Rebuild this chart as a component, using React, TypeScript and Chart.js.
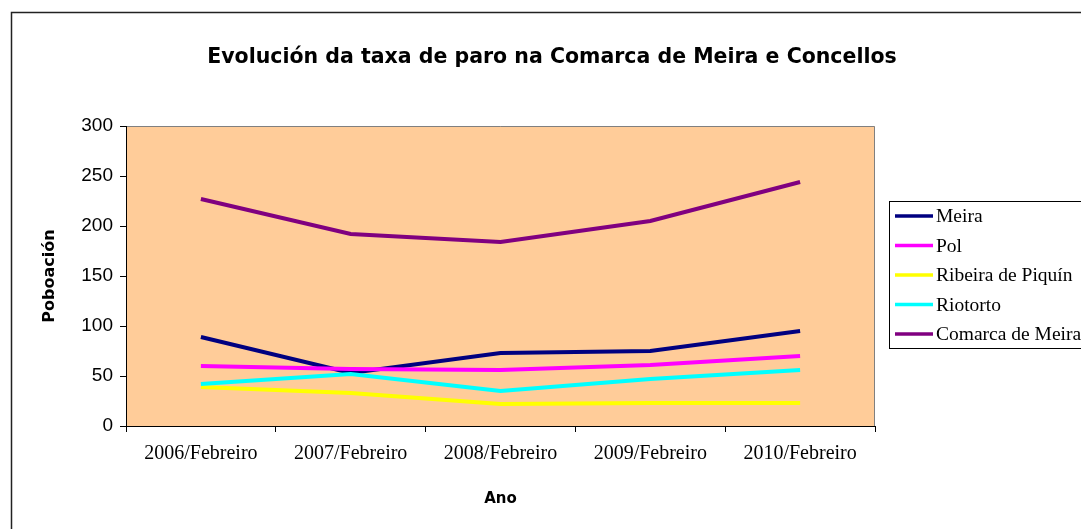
import React, { useEffect, useRef } from 'react';
import { Chart, registerables } from 'chart.js';

Chart.register(...registerables);

const chartTitle = 'Evolución da taxa de paro na Comarca de Meira e Concellos';
const xTitle = 'Ano';
const yTitle = 'Poboación';

const categories = ['2006/Febreiro', '2007/Febreiro', '2008/Febreiro', '2009/Febreiro', '2010/Febreiro'];

const seriesNames = ['Meira', 'Pol', 'Ribeira de Piquín', 'Riotorto', 'Comarca de Meira'];
const meira = [89, 53, 73, 75, 95];
const pol = [60, 57, 56, 61, 70];
const ribeira = [39, 33, 22, 23, 23];
const riotorto = [42, 52, 35, 47, 56];
const comarca = [227, 192, 184, 205, 244];
const seriesColors = ['#000080', '#FF00FF', '#FFFF00', '#00FFFF', '#800080'];

const yMin = 0;
const yMax = 300;
const yStep = 50;

const plotBackground = {
  id: 'plotBackground',
  beforeDraw(chart: any) {
    const { ctx, chartArea } = chart;
    const { left, top, right, bottom } = chartArea;
    ctx.save();
    ctx.strokeStyle = '#222222';
    ctx.lineWidth = 1.5;
    ctx.strokeRect(11.5, 12.5, 1200, 700);
    ctx.fillStyle = '#FFCC99';
    ctx.fillRect(left, top, right - left, bottom - top);
    ctx.strokeStyle = '#808080';
    ctx.lineWidth = 1;
    ctx.beginPath();
    ctx.moveTo(left, Math.round(top) + 0.5);
    ctx.lineTo(Math.round(right) - 0.5, Math.round(top) + 0.5);
    ctx.lineTo(Math.round(right) - 0.5, bottom);
    ctx.stroke();
    ctx.restore();
  },
};

const boxLegend = {
  id: 'boxLegend',
  afterDraw(chart: any) {
    const { ctx } = chart;
    const datasets = chart.data.datasets;
    const boxX = 889.5;
    const boxY = 201.5;
    const rowH = 29.5;
    const firstY = 216;
    ctx.save();
    ctx.fillStyle = '#FFFFFF';
    ctx.fillRect(boxX, boxY, 300, 147);
    ctx.strokeStyle = '#000000';
    ctx.lineWidth = 1;
    ctx.strokeRect(boxX, boxY, 300, 147);
    ctx.font = '19.5px "Liberation Serif"';
    ctx.textBaseline = 'middle';
    ctx.textAlign = 'left';
    datasets.forEach((ds: any, i: number) => {
      const y = firstY + i * rowH;
      ctx.strokeStyle = ds.borderColor;
      ctx.lineWidth = 3.5;
      ctx.beginPath();
      ctx.moveTo(895, y);
      ctx.lineTo(933, y);
      ctx.stroke();
      ctx.fillStyle = '#000000';
      ctx.fillText(ds.label, 936, y + 1);
    });
    ctx.restore();
  },
};

export default function App() {
  const canvasRef = useRef<HTMLCanvasElement | null>(null);

  useEffect(() => {
    const canvas = canvasRef.current;
    if (!canvas) return;
    const seriesValues = [meira, pol, ribeira, riotorto, comarca];
    const chart = new Chart(canvas, {
      type: 'line',
      data: {
        labels: categories,
        datasets: seriesValues.map((vals, i) => ({
          label: seriesNames[i],
          data: vals,
          borderColor: seriesColors[i],
          backgroundColor: seriesColors[i],
          borderWidth: 4,
          pointRadius: 0,
          tension: 0,
          fill: false,
          xAxisID: 'x',
          yAxisID: 'y',
          order: seriesValues.length - i,
        })),
      },
      options: {
        responsive: false,
        animation: false,
        layout: { padding: { left: 23, right: 0, top: 0, bottom: 0 } },
        plugins: {
          legend: { display: false },
          tooltip: { enabled: false },
          title: {
            display: true,
            text: chartTitle,
            color: '#000000',
            font: { family: '"DejaVu Sans"', size: 20.5, weight: 'bold' },
            padding: { top: 45, bottom: 56.4 },
          },
        },
        scales: {
          x: {
            type: 'category',
            offset: true,
            grid: {
              offset: true,
              drawOnChartArea: false,
              drawTicks: true,
              tickLength: 6,
              color: '#000000',
            },
            border: { color: '#000000', width: 1 },
            ticks: {
              color: '#000000',
              font: { family: '"Liberation Serif"', size: 20 },
              padding: 10,
              maxRotation: 0,
              autoSkip: false,
            },
            title: {
              display: true,
              text: xTitle,
              color: '#000000',
              font: { family: '"DejaVu Sans"', size: 15, weight: 'bold' },
              padding: { top: 0, bottom: 21 },
            },
            afterFit(scale: any) {
              scale.height = 103;
            },
          },
          y: {
            type: 'linear',
            position: 'left',
            min: yMin,
            max: yMax,
            ticks: {
              stepSize: yStep,
              color: '#000000',
              font: { family: '"Liberation Sans"', size: 19 },
              padding: 7,
            },
            grid: {
              drawOnChartArea: false,
              drawTicks: true,
              tickLength: 6,
              color: '#000000',
            },
            border: { color: '#000000', width: 1 },
            title: {
              display: true,
              text: yTitle,
              color: '#000000',
              font: { family: '"DejaVu Sans"', size: 16, weight: 'bold' },
              padding: { top: 17, bottom: 0 },
            },
            afterFit(scale: any) {
              scale.width = 103;
            },
          },
          yRight: {
            type: 'linear',
            position: 'right',
            display: true,
            grid: { display: false },
            border: { display: false },
            ticks: { display: false },
            afterFit(scale: any) {
              scale.width = 206;
            },
          },
        },
      },
      plugins: [plotBackground, boxLegend],
    });
    return () => chart.destroy();
  }, []);

  return (
    <div style={{ position: 'fixed', left: 0, top: 0, width: 1081, height: 529, background: '#FFFFFF' }}>
      <canvas ref={canvasRef} width={1081} height={529} style={{ display: 'block' }} />
    </div>
  );
}
